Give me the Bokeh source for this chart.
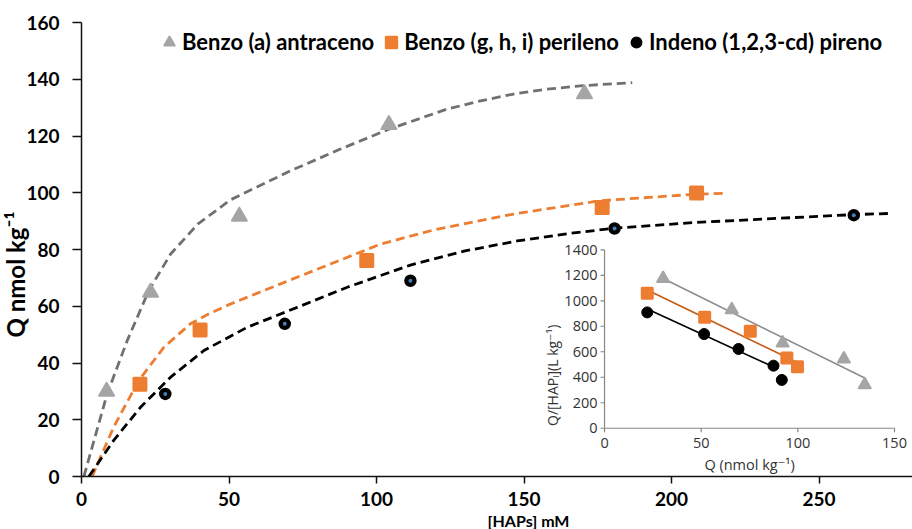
import math
from bokeh.plotting import figure
from bokeh.models import Range1d, FixedTicker, Legend, LegendItem, ColumnDataSource, Title
from bokeh.core.properties import value
from bokeh.embed import file_html
from bokeh.resources import INLINE

# ---------------- data ----------------
series_names = ["Benzo (a) antraceno", "Benzo (g, h, i) perileno", "Indeno (1,2,3-cd) pireno"]

# measured points: [HAPs] (mM) vs Q (nmol kg-1)
baa_c = [8.5, 23.4, 53.5, 104.2, 170.5]
baa_q = [30.0, 64.9, 91.7, 124.0, 134.8]
bghi_c = [19.8, 40.2, 96.7, 176.5, 208.5]
bghi_q = [32.5, 51.6, 76.1, 94.8, 99.9]
ind_c = [28.4, 68.9, 111.5, 180.7, 261.8]
ind_q = [29.1, 53.8, 69.0, 87.4, 92.1]

# fitted isotherm curves (dashed)
baa_fit_c = [0.8, 8.7, 15.5, 22.8, 30.2, 39.5, 50.5, 60.0, 70.8, 87.8, 104.2, 124.0, 135.3,
             146.5, 157.8, 169.2, 186.7]
baa_fit_q = [0.0, 29.1, 47.9, 65.5, 78.4, 89.0, 97.5, 102.3, 107.7, 115.4, 122.4, 129.5, 132.4,
             134.8, 136.5, 137.7, 138.8]
bghi_fit_c = [3.6, 10.9, 19.4, 27.9, 36.9, 43.5, 50.5, 67.5, 84.4, 101.4, 119.4, 146.5, 175.9,
              208.5, 218.3]
bghi_fit_q = [0.0, 17.4, 33.8, 45.5, 53.8, 57.5, 60.8, 67.9, 74.9, 81.9, 86.9, 92.5, 97.2,
              99.5, 99.8]
ind_fit_c = [2.5, 10.9, 20.0, 30.2, 41.5, 56.2, 73.1, 90.1, 111.5, 130.0, 147.7, 165.0, 180.5,
             207.6, 261.8, 273.7]
ind_fit_q = [0.0, 12.7, 24.4, 35.0, 44.4, 52.6, 59.6, 66.7, 74.5, 79.5, 83.0, 85.6, 87.5,
             89.5, 92.3, 92.7]

# inset (Scatchard-type plot): Q vs Q/[HAP_L]
ins_baa_q = [30.3, 65.8, 92.1, 123.8, 134.6]
ins_baa_r = [1175, 930, 669, 543, 342]
ins_bghi_q = [22.1, 51.8, 75.4, 94.3, 99.8]
ins_bghi_r = [1060, 870, 760, 551, 483]
ins_ind_q = [22.1, 51.5, 69.3, 87.4, 91.7]
ins_ind_r = [909, 739, 622, 491, 379]
# regression lines (end points)
ins_baa_line_q = [30.3, 134.6]
ins_baa_line_r = [1175, 394]
ins_bghi_line_q = [22.1, 100.3]
ins_bghi_line_r = [1084, 512]
ins_ind_line_q = [22.1, 89.8]
ins_ind_line_r = [935, 465]

x_ticks = [0, 50, 100, 150, 200, 250]
y_ticks = [0, 20, 40, 60, 80, 100, 120, 140, 160]
inset_x_ticks = [0, 50, 100, 150]
inset_y_ticks = [0, 200, 400, 600, 800, 1000, 1200, 1400]

x_title = "[HAPs] mM"
y_title = "Q nmol kg\u207b\u00b9"
inset_x_title = "Q (nmol kg\u207b\u00b9)"
inset_y_title = "Q/[HAP\u2097](L kg\u207b\u00b9)"

# ---------------- styling ----------------
GRAY_M = "#A5A5A5"
GRAY_L = "#707070"
ORANGE = "#ED7D31"
ORANGE_L = "#C65911"
BLACK = "#000000"
BLUE = "#4A7EBB"
FONT = "Lato"
IFONT = "Open Sans, DejaVu Sans"

W, H = 912, 529
LEFT, TOP = 81, 22
FRAME_W = W - LEFT
PX_PER_X = 2.95
X_MAX = FRAME_W / PX_PER_X
Y_MAX = 160
FRAME_H_EST = 454

p = figure(width=W, height=H,
           x_range=Range1d(0, X_MAX), y_range=Range1d(0, Y_MAX),
           output_backend="svg", toolbar_location=None,
           min_border_left=LEFT, min_border_right=0, min_border_top=TOP, min_border_bottom=0)
p.outline_line_color = None
p.xgrid.visible = False
p.ygrid.visible = False
p.background_fill_color = "white"

for ax in (p.xaxis[0], p.yaxis[0]):
    ax.axis_line_color = "#111111"
    ax.axis_line_width = 1.5
    ax.major_tick_line_color = "#111111"
    ax.major_tick_line_width = 1.5
    ax.major_tick_in = 0
    ax.minor_tick_line_color = None
    ax.major_label_text_font = FONT
    ax.major_label_text_font_style = "bold"
    ax.major_label_text_font_size = "19px"
    ax.major_label_text_color = "black"

p.xaxis.ticker = FixedTicker(ticks=x_ticks)
p.yaxis.ticker = FixedTicker(ticks=y_ticks)
p.xaxis.major_tick_out = 7
p.xaxis.major_label_standoff = 8
p.yaxis.major_tick_out = 9
p.yaxis.major_label_standoff = 13

# axis titles, set as side titles so they can be offset along the axis like the reference
p.add_layout(Title(text=x_title, align="left", offset=406, standoff=0,
                   text_font=FONT, text_font_style="bold", text_font_size="16px",
                   text_color="black"), "below")
p.add_layout(Title(text=y_title, align="left", offset=139, standoff=-12,
                   text_font=FONT, text_font_style="bold", text_font_size="24px",
                   text_color="black"), "left")

# fitted curves
DASH = "9 5"
p.line(baa_fit_c, baa_fit_q, line_color=GRAY_L, line_width=2.8, line_dash=DASH, line_join="round")
p.line(bghi_fit_c, bghi_fit_q, line_color=ORANGE, line_width=2.8, line_dash=DASH, line_join="round")
p.line(ind_fit_c, ind_fit_q, line_color=BLACK, line_width=2.8, line_dash=DASH, line_join="round")

# measured points
r_baa = p.scatter(baa_c, baa_q, marker="triangle", size=15, fill_color=GRAY_M,
                  line_color=GRAY_M, line_width=2, line_join="round")
r_bghi = p.scatter(bghi_c, bghi_q, marker="square", size=12, fill_color=ORANGE,
                   line_color=ORANGE, line_width=3, line_join="round")
r_ind = p.scatter(ind_c, ind_q, marker="circle", size=11, fill_color=BLACK,
                  line_color=BLACK, line_width=1.5)
p.scatter(ind_c, ind_q, marker="circle", size=4, fill_color=BLUE, line_color=None)

legend = Legend(items=[LegendItem(label=series_names[0], renderers=[r_baa]),
                       LegendItem(label=series_names[1], renderers=[r_bghi]),
                       LegendItem(label=series_names[2], renderers=[r_ind])],
                orientation="horizontal", location=(75, FRAME_H_EST - 7 - 26),
                label_text_font=FONT, label_text_font_style="bold",
                label_text_font_size="22px", label_text_color="black",
                glyph_width=26, glyph_height=26, label_standoff=0, spacing=4,
                padding=0, margin=0, border_line_alpha=0, background_fill_alpha=0)
p.add_layout(legend)

# ---------------- inset (drawn on extra ranges inside the main frame) ----------------
# where inset (0,0) and (150,1400) sit, in main-axis units
IX0, IX1 = 177.3, 275.6
IY0, IY1 = 17.0, 79.9
ixmax, iymax = inset_x_ticks[-1], inset_y_ticks[-1]
sx = ixmax / (IX1 - IX0)
sy = iymax / (IY1 - IY0)
p.extra_x_ranges = {"ix": Range1d(-IX0 * sx, (X_MAX - IX0) * sx)}
p.extra_y_ranges = {"iy": Range1d(-IY0 * sy, (Y_MAX - IY0) * sy)}
px_per_ix = PX_PER_X / sx
px_per_iy = FRAME_H_EST / Y_MAX / sy
tick_dx = 4 / px_per_ix
tick_dy = 4 / px_per_iy
kw = dict(x_range_name="ix", y_range_name="iy")
AX_C = "#868686"
TXT_C = "#333333"
ISIZE = "14.5px"

# axis lines
p.line([inset_x_ticks[0], inset_x_ticks[0]], [inset_y_ticks[0], inset_y_ticks[-1]],
       line_color=AX_C, line_width=1.2, **kw)
p.line([inset_x_ticks[0], inset_x_ticks[-1]], [inset_y_ticks[0], inset_y_ticks[0]],
       line_color=AX_C, line_width=1.2, **kw)
# tick marks
p.segment(x0=[-tick_dx] * len(inset_y_ticks), y0=inset_y_ticks,
          x1=[0] * len(inset_y_ticks), y1=inset_y_ticks, line_color=AX_C, line_width=1.2, **kw)
p.segment(x0=inset_x_ticks, y0=[0] * len(inset_x_ticks),
          x1=inset_x_ticks, y1=[-tick_dy] * len(inset_x_ticks), line_color=AX_C, line_width=1.2, **kw)
# tick labels
ysrc = ColumnDataSource(dict(x=[0] * len(inset_y_ticks), y=inset_y_ticks,
                             t=[str(v) for v in inset_y_ticks]))
p.text(x="x", y="y", text="t", source=ysrc, x_offset=-7, text_align="right",
       text_baseline="middle", text_font=value(IFONT), text_font_size=ISIZE,
       text_color=TXT_C, **kw)
xsrc = ColumnDataSource(dict(x=inset_x_ticks, y=[0] * len(inset_x_ticks),
                             t=[str(v) for v in inset_x_ticks]))
p.text(x="x", y="y", text="t", source=xsrc, y_offset=10, text_align="center",
       text_baseline="top", text_font=value(IFONT), text_font_size=ISIZE,
       text_color=TXT_C, **kw)
# axis titles
p.text(x=[ixmax / 2], y=[0], text=[inset_x_title], y_offset=27,
       text_align="center", text_baseline="top", text_font=value(IFONT),
       text_font_size=ISIZE, text_color=TXT_C, **kw)
p.text(x=[0], y=[0], text=[inset_y_title], x_offset=-52, y_offset=-53,
       angle=math.pi / 2, text_align="center", text_baseline="middle",
       text_font=value(IFONT), text_font_size="14px", text_color=TXT_C, **kw)

# regression lines
p.line(ins_baa_line_q, ins_baa_line_r, line_color="#8C8C8C", line_width=1.6, **kw)
p.line(ins_bghi_line_q, ins_bghi_line_r, line_color=ORANGE_L, line_width=1.6, **kw)
p.line(ins_ind_line_q, ins_ind_line_r, line_color=BLACK, line_width=1.6, **kw)
# inset points
p.scatter(ins_baa_q, ins_baa_r, marker="triangle", size=12, fill_color=GRAY_M,
          line_color=GRAY_M, line_width=2, line_join="round", **kw)
p.scatter(ins_bghi_q, ins_bghi_r, marker="square", size=10, fill_color=ORANGE,
          line_color=ORANGE, line_width=3, line_join="round", **kw)
p.scatter(ins_ind_q, ins_ind_r, marker="circle", size=11, fill_color=BLACK,
          line_color=BLACK, **kw)

open("out.html", "w").write(file_html(p, INLINE))
